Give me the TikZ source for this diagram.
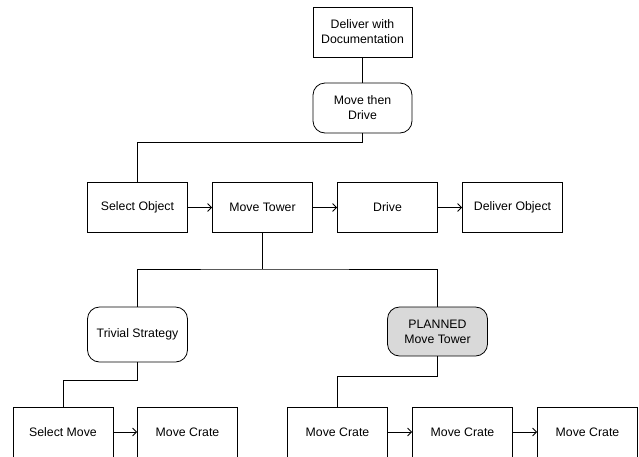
\documentclass[tikz,border=0pt]{standalone}
\usepackage{fontspec}
\setmainfont{Liberation Sans}
\usetikzlibrary{arrows.meta}
\begin{document}
\begin{tikzpicture}[x=1pt,y=-1pt,
  box/.style={draw,line width=0.8pt,minimum width=100pt,minimum height=50pt,inner sep=1pt,align=center,font=\fontsize{12.3}{15}\selectfont},
  rbox/.style={box,rounded corners=12pt},
  con/.style={line width=0.8pt},
  arr/.style={con,-{Straight Barb[length=4pt,width=8pt,line width=0.8pt]}}]
\useasboundingbox (0,0) rectangle (639,456);
\node[box,minimum width=99pt] (doc) at (362.5,32) {Deliver with\\Documentation};
\node[rbox,minimum width=99pt] (mtd) at (362.5,108) {Move then\\Drive};
\node[box] (sel) at (137.5,207.5) {Select Object};
\node[box] (mt) at (262.5,207.5) {Move Tower};
\node[box] (drv) at (387.5,207.5) {Drive};
\node[box] (dob) at (512.5,207.5) {Deliver Object};
\node[rbox,minimum height=55pt] (triv) at (137.5,334.5) {Trivial Strategy};
\node[rbox,minimum height=49pt,fill={rgb,255:red,217;green,217;blue,217}] (plan) at (437.5,331.5) {PLANNED\\Move Tower};
\node[box] (smv) at (63,432) {Select Move};
\node[box] (mc1) at (187.5,432) {Move Crate};
\node[box] (mc2) at (337.5,432) {Move Crate};
\node[box] (mc3) at (462.5,432) {Move Crate};
\node[box] (mc4) at (587.5,432) {Move Crate};
\coordinate (j1) at (362.5,142);
\coordinate (j2) at (262.5,269);
\coordinate (j3) at (137.5,380);
\coordinate (j4) at (437.5,376);
\draw[con] (doc) -- (mtd);
\draw[con] (mtd.south) -- (j1) -| (sel.north);
\draw[con] (mt.south) -- (j2);
\draw[con] (triv.north) |- (j2) -| (plan.north);
\draw[con] (triv.south) -- (j3) -| (smv.north);
\draw[con] (plan.south) -- (j4) -| (mc2.north);
\draw[arr] (sel) -- (mt);
\draw[arr] (mt) -- (drv);
\draw[arr] (drv) -- (dob);
\draw[arr] (smv) -- (mc1);
\draw[arr] (mc2) -- (mc3);
\draw[arr] (mc3) -- (mc4);
\end{tikzpicture}
\end{document}
